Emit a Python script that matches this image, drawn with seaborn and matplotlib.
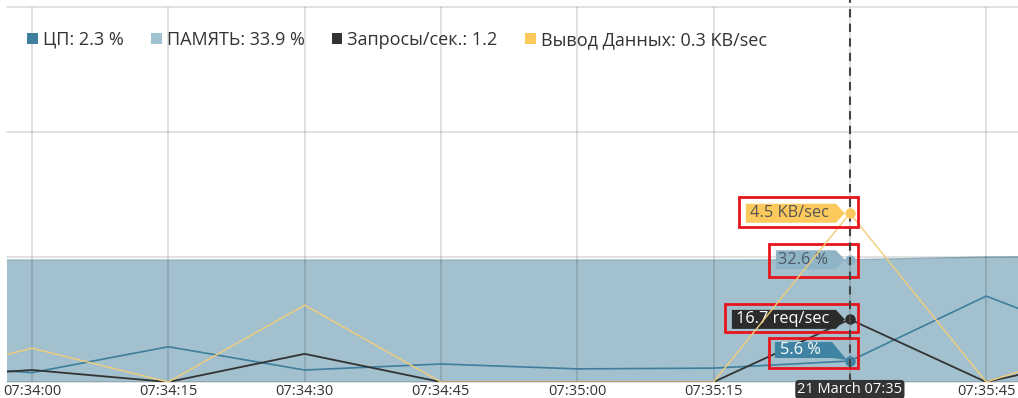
import numpy as np
import pandas as pd
import matplotlib
matplotlib.use("Agg")
import matplotlib.pyplot as plt
import matplotlib.dates as mdates
import matplotlib.transforms as mtransforms
from matplotlib.patches import Patch, Polygon, Rectangle
import seaborn as sns

# ---- data: one sample every 15 seconds ----
times = pd.date_range("2024-03-21 07:33:45", periods=10, freq="15s")
cpu_pct = [4.9, 2.5, 9.4, 3.2, 4.8, 3.5, 3.7, 5.6, 22.9, 9.0]
mem_pct = [32.5, 32.5, 32.5, 32.5, 32.5, 32.5, 32.5, 32.6, 33.3, 33.5]
req_per_sec = [0.8, 3.2, 0.0, 7.5, 0.0, 0.0, 0.0, 16.7, 0.0, 8.0]
out_kb_sec = [0.0, 0.9, 0.0, 2.05, 0.0, 0.0, 0.0, 4.5, 0.0, 1.15]

legend_labels = ["ЦП: 2.3 %", "ПАМЯТЬ: 33.9 %", "Запросы/сек.: 1.2",
                 "Вывод Данных: 0.3 KB/sec"]
hover_idx = 7
hover_title = "21 March 07:35"
tick_times = pd.date_range("2024-03-21 07:34:00", "2024-03-21 07:35:45", freq="15s")
x_start = pd.Timestamp("2024-03-21 07:33:57.25")
x_end = pd.Timestamp("2024-03-21 07:35:48.5")

# ---- colours ----
C_CPU = "#3d7f9c"
C_MEM = "#a2c0cd"
C_MEM_EDGE = "#8fb1c1"
C_MEM_KEY = "#9fc3d0"
C_REQ = "#333333"
C_OUT = "#f2cd79"
C_OUT_KEY = "#fbc95c"
TEXT = "#333333"

sns.set_theme(style="white")
plt.rcParams["font.family"] = ["Open Sans", "DejaVu Sans"]

fig = plt.figure(figsize=(10.18, 3.98), dpi=100)
ax = fig.add_axes([7 / 1018, 16 / 398, 1011 / 1018, 375 / 398])
ax2 = ax.twinx()

# memory area
ax.fill_between(times, 0, mem_pct, color=C_MEM, lw=0, zorder=1)
sns.lineplot(x=times, y=mem_pct, ax=ax, color=C_MEM_EDGE, lw=1.0, zorder=1.5)
# cpu and request lines
sns.lineplot(x=times, y=cpu_pct, ax=ax, color=C_CPU, lw=1.2, zorder=3)
sns.lineplot(x=times, y=req_per_sec, ax=ax, color=C_REQ, lw=1.3, zorder=3)
# data output on its own scale
sns.lineplot(x=times, y=out_kb_sec, ax=ax2, color=C_OUT, lw=1.0, zorder=3)

ax.set_ylim(0, 100)
ax2.set_ylim(0, 10)
ax.set_xlim(x_start, x_end)
ax2.set_xlim(x_start, x_end)
for a in (ax, ax2):
    a.set_xlabel("")
    a.set_ylabel("")

# grid
ax.set_yticks([0, 100 / 3, 200 / 3, 100])
ax.set_yticklabels([])
ax2.set_yticks([])
ax.set_xticks(tick_times)
tick_labels = ["" if t == times[hover_idx] else t.strftime("%H:%M:%S") for t in tick_times]
ax.set_xticklabels(tick_labels)
ax.tick_params(axis="x", length=0, pad=1.5, labelsize=10.5, labelcolor=TEXT)
ax.tick_params(axis="y", length=0)
ax.set_axisbelow(False)
ax.grid(True, color="black", alpha=0.13, lw=1.3)
for gl in ax.get_ygridlines():
    gl.set_clip_on(False)
for a in (ax, ax2):
    for s in a.spines.values():
        s.set_visible(False)

# hover cursor
hx = times[hover_idx]
ax2.axvline(hx, ymin=0, ymax=1 + 7 / 375, color="#444444", lw=1.5,
            ls=(0, (4, 3)), clip_on=False, zorder=4)
ax.annotate(hover_title, xy=(hx, 0), xycoords=("data", "axes fraction"),
            xytext=(0, -7.5), textcoords="offset pixels", ha="center", va="center",
            color="white", fontsize=10.5, annotation_clip=False,
            bbox=dict(boxstyle="round,pad=0.14,rounding_size=0.25", fc="#333333", ec="none"))


def hover_flag(axis, value, color, text, text_color, poly, text_off, box):
    """Arrow-shaped value flag pointing at the hovered point, with outline box."""
    xnum = mdates.date2num(hx)
    anchor = mtransforms.ScaledTranslation(xnum, value, axis.transData)
    tr = mtransforms.Affine2D() + anchor
    axis.add_artist(Polygon(poly, closed=True, fc=color, ec="none",
                            transform=tr, clip_on=False, zorder=6))
    axis.annotate(text, xy=(hx, value), xytext=text_off, textcoords="offset pixels",
                  ha="center", va="center", color=text_color, fontsize=11.8,
                  zorder=7, annotation_clip=False)
    x0, x1, y0, y1 = box
    axis.add_artist(Rectangle((x0, y0), x1 - x0, y1 - y0, fill=False, ec="#e8141c",
                              lw=2.0, transform=tr, clip_on=False, zorder=8))
    axis.plot([hx], [value], marker="o", ms=7.5, color=color, mec="none",
              zorder=7, clip_on=False)


def pentagon(left, right, half_h, tip):
    return [(left, -half_h), (right, -half_h), (tip, 0), (right, half_h), (left, half_h)]


hover_flag(ax2, out_kb_sec[hover_idx], C_OUT_KEY, f"{out_kb_sec[hover_idx]} KB/sec", "#555555",
           pentagon(-104, -14, 9.5, -5), (-60, 0), (-111, 8, -14, 16))
hover_flag(ax, mem_pct[hover_idx], "#8fb4c5", f"{mem_pct[hover_idx]} %", "#4d5c66",
           pentagon(-74, -14, 9.5, -5), (-47, 0), (-81, 8, -17, 16))
hover_flag(ax, req_per_sec[hover_idx], "#2b2b2b", f"{req_per_sec[hover_idx]} req/sec", "white",
           pentagon(-118, -14, 9.5, -5), (-67, 0), (-125, 8, -13, 15))
hover_flag(ax, cpu_pct[hover_idx], "#3f84a2", f"{cpu_pct[hover_idx]} %", "white",
           [(-75, 3), (-75, 19), (-18, 19), (-3, 1), (-18, 3)], (-49, 11), (-81, 8, -7, 23))

# legend with square keys
handles = [Patch(fc=c, ec="none") for c in (C_CPU, C_MEM_KEY, C_REQ, C_OUT_KEY)]
leg = ax2.legend(handles, legend_labels, ncol=4, loc="center left",
                 bbox_to_anchor=(20 / 1011, (382 - 40) / 375), frameon=False,
                 fontsize=13, handlelength=0.6, handleheight=0.6,
                 handletextpad=0.28, columnspacing=1.5, borderpad=0, borderaxespad=0)
for t in leg.get_texts():
    t.set_color(TEXT)

fig.savefig("out.png", dpi=100)
